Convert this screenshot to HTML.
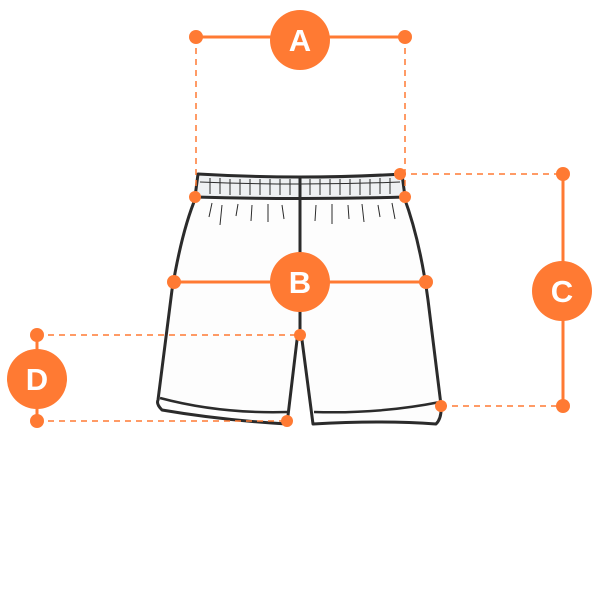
<!DOCTYPE html>
<html><head><meta charset="utf-8"><style>
html,body{margin:0;padding:0;background:#fff;}
svg{display:block;}
text{font-family:"Liberation Sans",sans-serif;font-weight:bold;fill:#fff;text-anchor:middle;}
</style></head><body>
<svg width="600" height="600" viewBox="0 0 600 600" xmlns="http://www.w3.org/2000/svg">
<g fill="#fdfdfd" stroke="#2b2b2b" stroke-width="3" stroke-linejoin="round">
  <!-- body -->
  <path d="M196,197 L404,197 Q420,240 428,300 L441,405 Q442,418 436,424 Q380,420 313,424 L302,340 L300,332 L297,340 L287,424 Q220,420 162,410 Q156,404 158,400 L172,290 Q182,230 196,197 Z"/>
  <!-- hems -->
  <path d="M160,398 Q220,414 288,412" fill="none" stroke-width="2.5"/>
  <path d="M314,412 Q380,414 440,402" fill="none" stroke-width="2.5"/>
  <!-- waistband -->
  <path d="M198,174 Q300,180 402,174 L405,197 Q300,200 195,197 Z" fill="#eef0f2"/>
  <line x1="300" y1="178" x2="300" y2="332" stroke-width="3"/>
</g>
<g stroke="#2b2b2b" stroke-width="1" fill="none">
  <path d="M200,182 Q300,186 400,182"/>
  <path d="M210,178v16 M220,178v16 M230,179v16 M240,179v16 M250,179v16 M260,179v16 M270,179v16 M280,179v16 M290,179v16 M310,179v16 M320,179v16 M330,179v16 M340,179v16 M350,179v16 M360,179v16 M370,179v16 M380,178v16 M390,178v16"/>
  <path d="M212,203 l-3,14 M222,205 l-2,20 M238,204 l-2,12 M252,205 l-1,16 M268,204 l0,18 M282,205 l2,14 M316,205 l-1,16 M332,204 l0,20 M348,205 l1,14 M362,204 l2,18 M378,205 l2,12 M392,203 l3,16"/>
</g>
<g stroke="#ff7a33" fill="#ff7a33">
  <!-- A -->
  <line x1="196" y1="37" x2="405" y2="37" stroke-width="3"/>
  <line x1="196" y1="37" x2="196" y2="195" stroke-width="1.5" stroke-dasharray="6,5"/>
  <line x1="405" y1="37" x2="405" y2="195" stroke-width="1.5" stroke-dasharray="6,5"/>
  <circle cx="196" cy="37" r="7" stroke="none"/><circle cx="405" cy="37" r="7" stroke="none"/>
  <circle cx="300" cy="40" r="30" stroke="none"/>
  <circle cx="195" cy="197" r="6" stroke="none"/><circle cx="405" cy="197" r="6" stroke="none"/>
  <!-- B -->
  <line x1="173" y1="282" x2="426" y2="282" stroke-width="3"/>
  <circle cx="174" cy="282" r="7" stroke="none"/><circle cx="426" cy="282" r="7" stroke="none"/>
  <circle cx="300" cy="282" r="30" stroke="none"/>
  <!-- C -->
  <line x1="400" y1="174" x2="563" y2="174" stroke-width="1.5" stroke-dasharray="6,5"/>
  <line x1="441" y1="406" x2="563" y2="406" stroke-width="1.5" stroke-dasharray="6,5"/>
  <line x1="563" y1="174" x2="563" y2="406" stroke-width="3"/>
  <circle cx="400" cy="174" r="6" stroke="none"/><circle cx="441" cy="406" r="6" stroke="none"/>
  <circle cx="563" cy="174" r="7" stroke="none"/><circle cx="563" cy="406" r="7" stroke="none"/>
  <circle cx="562" cy="291" r="30" stroke="none"/>
  <!-- D -->
  <line x1="37" y1="335" x2="300" y2="335" stroke-width="1.5" stroke-dasharray="6,5"/>
  <line x1="37" y1="421" x2="287" y2="421" stroke-width="1.5" stroke-dasharray="6,5"/>
  <line x1="37" y1="335" x2="37" y2="421" stroke-width="3"/>
  <circle cx="300" cy="335" r="6" stroke="none"/><circle cx="287" cy="421" r="6" stroke="none"/>
  <circle cx="37" cy="335" r="7" stroke="none"/><circle cx="37" cy="421" r="7" stroke="none"/>
  <circle cx="37" cy="379" r="30" stroke="none"/>
</g>
<text x="300" y="51" font-size="31">A</text>
<text x="300" y="293" font-size="31">B</text>
<text x="562" y="302" font-size="31">C</text>
<text x="37" y="390" font-size="31">D</text>
</svg>
</body></html>
